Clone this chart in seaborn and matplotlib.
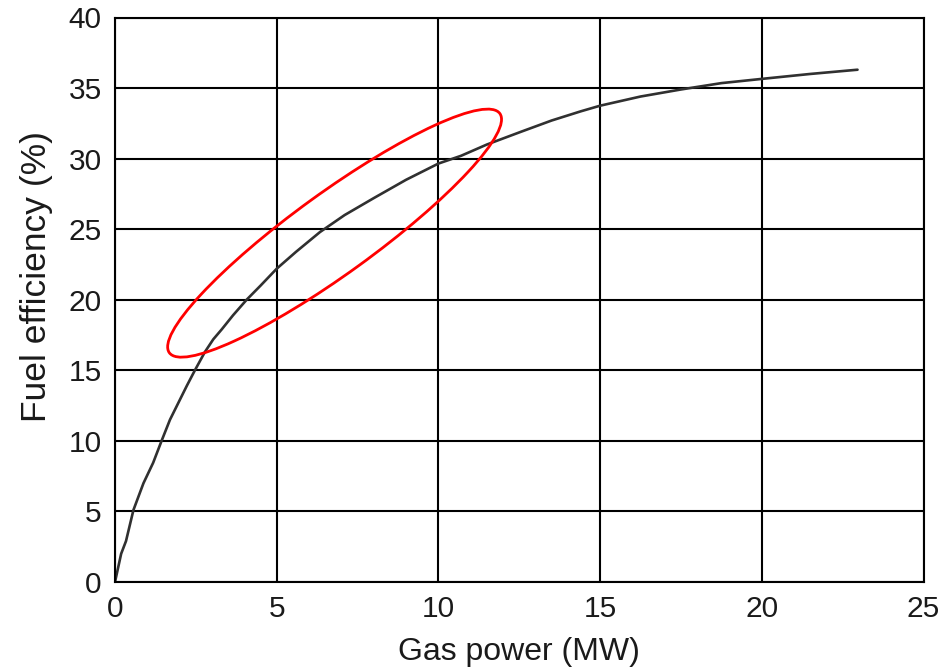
import numpy as np
import pandas as pd
import matplotlib
matplotlib.use("Agg")
import matplotlib.pyplot as plt
import seaborn as sns
from matplotlib.patches import Ellipse
from matplotlib.transforms import IdentityTransform

# --- Data ---
gas_power_mw = [0.0, 0.19, 0.34, 0.57, 0.88, 1.18, 1.44, 1.70, 1.96, 2.22,
                2.47, 2.78, 3.04, 3.30, 3.65, 4.07, 4.5, 5.0, 5.6, 6.34,
                7.1, 8.0, 9.0, 10.0, 10.7, 11.5, 12.55, 13.5, 14.4, 15.0,
                16.25, 17.5, 18.75, 20.0, 21.5, 22.96]
fuel_eff_pct = [0.0, 2.0, 2.9, 5.1, 7.0, 8.45, 10.0, 11.5, 12.7, 13.9,
                15.0, 16.3, 17.2, 17.9, 18.9, 20.0, 21.0, 22.2, 23.4, 24.8,
                26.0, 27.2, 28.5, 29.65, 30.2, 31.0, 31.9, 32.7, 33.35, 33.75,
                34.4, 34.9, 35.35, 35.65, 36.0, 36.3]

x_ticks = [0, 5, 10, 15, 20, 25]
y_ticks = [0, 5, 10, 15, 20, 25, 30, 35, 40]

# highlight ellipse: centre in data units, size in pixels
ellipse_center = (6.79, 24.72)
ellipse_w_px, ellipse_h_px, ellipse_angle = 408, 81, 35.9

df = pd.DataFrame({"Gas power (MW)": gas_power_mw,
                   "Fuel efficiency (%)": fuel_eff_pct})

# --- Style ---
sns.set_theme(style="white")
plt.rcParams['font.family'] = ['Liberation Sans', 'DejaVu Sans']
text_col = "#1a1a1a"

fig = plt.figure(figsize=(9.5, 6.68), dpi=100)
ax = fig.add_axes([115 / 950, 1 - 582 / 668, 808.5 / 950, 564.5 / 668])

sns.lineplot(data=df, x="Gas power (MW)", y="Fuel efficiency (%)",
             color="#303030", lw=1.9, sort=False, ax=ax)

ax.set_xlim(0, 25)
ax.set_ylim(0, 40)
ax.set_xticks(x_ticks)
ax.set_yticks(y_ticks)
ax.grid(True, color="black", lw=1.5)
ax.set_axisbelow(True)
for s in ax.spines.values():
    s.set_color("black")
    s.set_linewidth(1.5)

ax.tick_params(axis="both", length=0, pad=9.5, labelsize=21.5, labelcolor=text_col)
ax.set_xlabel("Gas power (MW)", fontsize=23, color=text_col)
ax.set_ylabel("Fuel efficiency (%)", fontsize=25.5, color=text_col)
ax.xaxis.set_label_coords(0.5, -0.098)
ax.yaxis.set_label_coords(-0.077, 0.542)

# red ellipse drawn in pixel space around the highlighted region
cx, cy = ax.transData.transform(ellipse_center)
ell = Ellipse((cx, cy), ellipse_w_px, ellipse_h_px, angle=ellipse_angle,
              transform=IdentityTransform(), fill=False, edgecolor="#ff0000", lw=2.0)
fig.patches.append(ell)

plt.savefig("out.png", dpi=100)
plt.close()
